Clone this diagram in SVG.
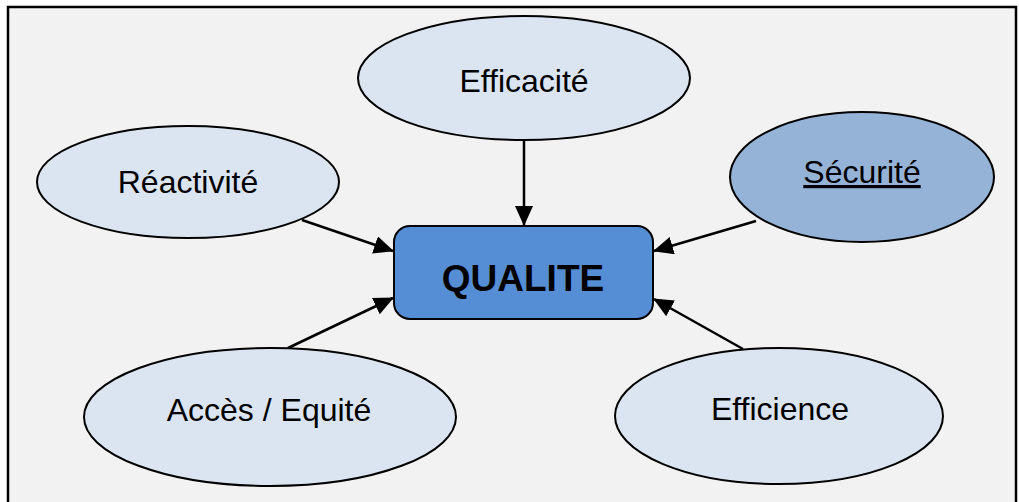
<svg xmlns="http://www.w3.org/2000/svg" width="1019" height="502" viewBox="0 0 1019 502">
  <style>
    .oval { fill: #dbe5f1; stroke: #000; stroke-width: 2; }
    .lbl { font-family: "Liberation Sans", Arial, sans-serif; font-size: 32px; fill: #000; text-anchor: middle; }
    .conn { stroke: #000; stroke-width: 2.5; fill: none; marker-end: url(#arr); }
  </style>
  <defs>
    <marker id="arr" markerUnits="userSpaceOnUse" markerWidth="20" markerHeight="18" viewBox="0 0 20 18" refX="19" refY="9" orient="auto">
      <path d="M0,0 L20,9 L0,18 Z" fill="#000"/>
    </marker>
  </defs>
  <rect x="0" y="0" width="1019" height="502" fill="#ffffff"/>
  <rect x="8" y="7" width="1009" height="500" fill="#f2f2f2"/>
  <path d="M8,502 L8,7 L1016,7 L1016,502" fill="none" stroke="#000" stroke-width="2.5"/>

  <g id="connectors">
    <line class="conn" x1="524" y1="140" x2="524" y2="225"/>
    <line class="conn" x1="302" y1="220" x2="393" y2="251"/>
    <line class="conn" x1="288" y1="348" x2="393" y2="298"/>
    <line class="conn" x1="756" y1="221" x2="654" y2="251"/>
    <line class="conn" x1="743" y1="349" x2="654" y2="299"/>
  </g>

  <g id="efficacite">
    <ellipse class="oval" cx="524" cy="78" rx="166" ry="62"/>
    <text class="lbl" x="524" y="92">Efficacité</text>
  </g>
  <g id="reactivite">
    <ellipse class="oval" cx="188" cy="182" rx="151" ry="56"/>
    <text class="lbl" x="188" y="193">Réactivité</text>
  </g>
  <g id="securite">
    <ellipse cx="862" cy="177" rx="132" ry="65" fill="#95b3d7" stroke="#000" stroke-width="2"/>
    <text class="lbl" x="862" y="183" text-decoration="underline">Sécurité</text>
  </g>
  <g id="acces">
    <ellipse class="oval" cx="270" cy="417" rx="186" ry="69"/>
    <text class="lbl" x="269" y="421">Accès / Equité</text>
  </g>
  <g id="efficience">
    <ellipse class="oval" cx="779" cy="416" rx="164" ry="68"/>
    <text class="lbl" x="780" y="420">Efficience</text>
  </g>
  <g id="qualite">
    <rect x="394" y="226" width="259" height="93" rx="16" ry="16" fill="#558ed5" stroke="#000" stroke-width="2"/>
    <text x="523" y="291" font-family="Liberation Sans, Arial, sans-serif" font-size="37" font-weight="bold" text-anchor="middle" fill="#000">QUALITE</text>
  </g>
</svg>
